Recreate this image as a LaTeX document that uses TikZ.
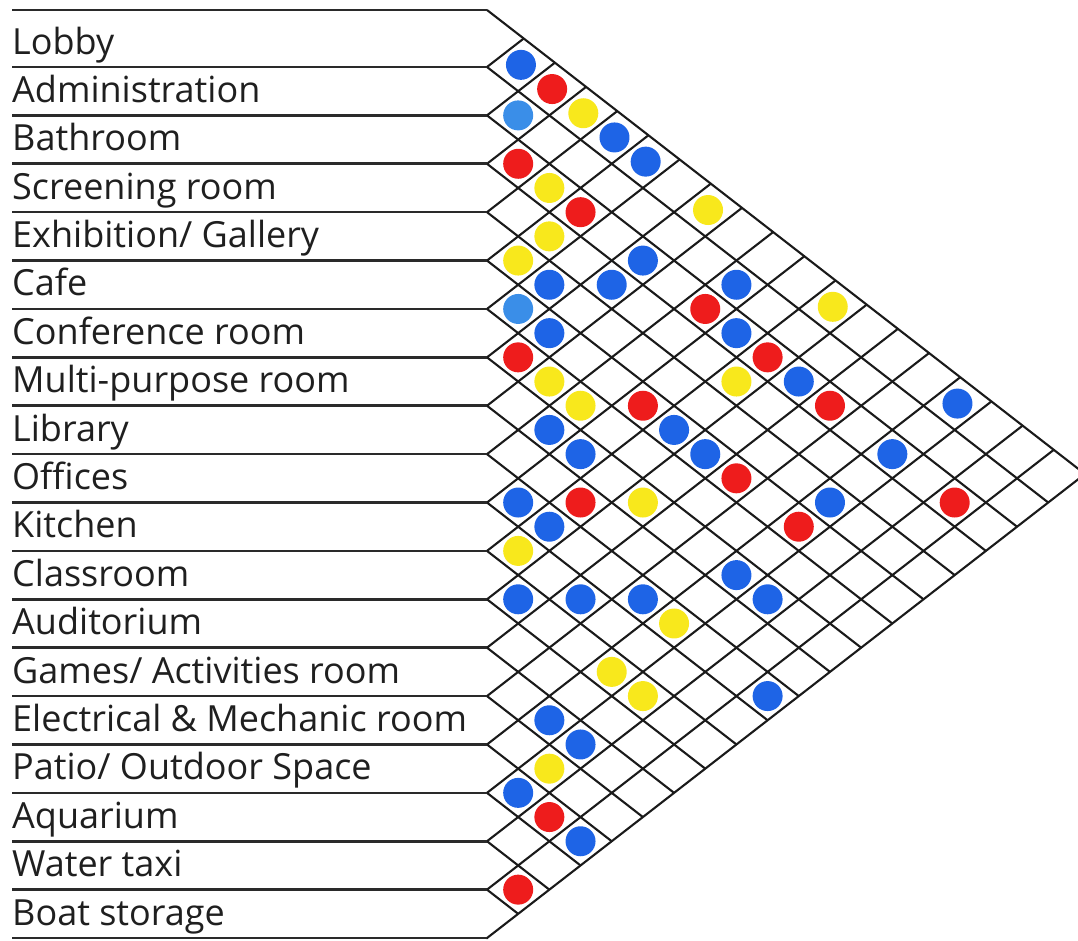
\documentclass[tikz,border=0pt]{standalone}
\usepackage{fontspec}
\setmainfont{Open Sans}
\definecolor{gridc}{HTML}{1A1A1A}
\definecolor{linec}{HTML}{2A2A2A}
\definecolor{dblue}{HTML}{1E64E6}
\definecolor{lblue}{HTML}{3A8EE8}
\definecolor{dred}{HTML}{EE1C1C}
\definecolor{dyel}{HTML}{F8E81C}
\newcommand\mcell[3]{%
  \pgfmathsetmacro\ca{cc(#1)}%
  \pgfmathsetmacro\cb{cc(#2)}%
  \node[dotnode, fill=#3] (c#1-#2) at ({487+(\cb-\ca)/(2*0.776)},{(\ca+\cb)/2}) {};%
}
\begin{document}
\begin{tikzpicture}[x=1pt,y=-1pt,
  declare function={yk(\k)=ifthenelse(\k==0,10,67+48.39*(\k-1)); cc(\k)=(yk(\k)+yk(\k+1))/2;},
  gridline/.style={draw=gridc, line width=2.1pt, line join=miter},
  labelline/.style={draw=linec, line width=2.6pt},
  lab/.style={anchor=base west, inner sep=0pt, font=\fontsize{36}{42}\selectfont, text=black!88},
  dotnode/.style={circle, minimum size=30pt, inner sep=0pt, draw=none}]
\useasboundingbox (0,0) rectangle (1078,940);
% grid
\foreach \k in {0,...,19} {
  \pgfmathsetmacro\yy{yk(\k)}
  \pgfmathsetmacro\xd{487+(938-\yy)/(2*0.776)}
  \pgfmathsetmacro\yd{(938+\yy)/2}
  \pgfmathsetmacro\xu{487+(\yy-10)/(2*0.776)}
  \pgfmathsetmacro\yu{(\yy+10)/2}
  \draw[gridline] (\xu,\yu) -- (487,\yy) -- (\xd,\yd);
  \draw[labelline] (12,\yy) -- (487,\yy);
}
% labels
\foreach \t [count=\i from 1] in {Lobby,Administration,Bathroom,Screening room,Exhibition/ Gallery,Cafe,Conference room,Multi-purpose room,Library,Offices,Kitchen,Classroom,Auditorium,Games/ Activities room,Electrical \& Mechanic room,Patio/ Outdoor Space,Aquarium,Water taxi,Boat storage} {
  \pgfmathsetmacro\yb{yk(\i)-13}
  \node[lab] (lab\i) at (12,\yb) {\t};
}
% dots
\mcell{0}{1}{dblue}
\mcell{0}{2}{dred}
\mcell{1}{2}{lblue}
\mcell{0}{3}{dyel}
\mcell{0}{4}{dblue}
\mcell{0}{5}{dblue}
\mcell{2}{3}{dred}
\mcell{2}{4}{dyel}
\mcell{2}{5}{dred}
\mcell{0}{7}{dyel}
\mcell{3}{5}{dyel}
\mcell{4}{5}{dyel}
\mcell{2}{7}{dblue}
\mcell{4}{6}{dblue}
\mcell{3}{7}{dblue}
\mcell{1}{9}{dblue}
\mcell{5}{6}{lblue}
\mcell{2}{9}{dred}
\mcell{0}{11}{dyel}
\mcell{5}{7}{dblue}
\mcell{2}{10}{dblue}
\mcell{6}{7}{dred}
\mcell{2}{11}{dred}
\mcell{6}{8}{dyel}
\mcell{3}{11}{dyel}
\mcell{2}{12}{dblue}
\mcell{6}{9}{dyel}
\mcell{5}{10}{dred}
\mcell{2}{13}{dred}
\mcell{0}{15}{dblue}
\mcell{7}{9}{dblue}
\mcell{5}{11}{dblue}
\mcell{7}{10}{dblue}
\mcell{5}{12}{dblue}
\mcell{2}{15}{dblue}
\mcell{5}{13}{dred}
\mcell{9}{10}{dblue}
\mcell{8}{11}{dred}
\mcell{7}{12}{dyel}
\mcell{4}{15}{dblue}
\mcell{2}{17}{dred}
\mcell{9}{11}{dblue}
\mcell{5}{15}{dred}
\mcell{10}{11}{dyel}
\mcell{7}{15}{dblue}
\mcell{11}{12}{dblue}
\mcell{10}{13}{dblue}
\mcell{9}{14}{dblue}
\mcell{7}{16}{dblue}
\mcell{9}{15}{dyel}
\mcell{11}{15}{dyel}
\mcell{11}{16}{dyel}
\mcell{9}{18}{dblue}
\mcell{13}{15}{dblue}
\mcell{13}{16}{dblue}
\mcell{14}{16}{dyel}
\mcell{15}{16}{dblue}
\mcell{15}{17}{dred}
\mcell{15}{18}{dblue}
\mcell{17}{18}{dred}
\end{tikzpicture}
\end{document}
